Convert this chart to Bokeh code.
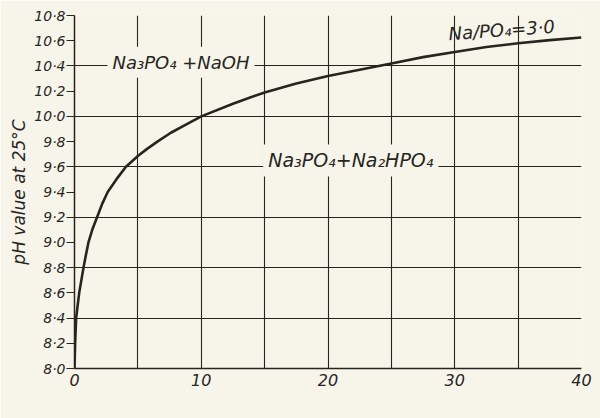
from bokeh.plotting import figure
from bokeh.models import FixedTicker, CustomJSTickFormatter, Label, Range1d
from bokeh.embed import file_html
from bokeh.resources import INLINE

# Data
po4_ppm = [0, 0.05, 0.13, 0.37, 0.71, 0.9, 1.1, 1.4, 1.78, 2.2, 2.62, 3.3, 4.06, 5, 5.7, 6.54,
           7.6, 8.9, 10, 12.5, 15, 17.5, 20, 22.5, 25, 27.5, 30, 32.5, 35, 37.5, 40]
ph_value = [8.0, 8.2, 8.4, 8.6, 8.8, 8.9, 9.0, 9.1, 9.2, 9.31, 9.4, 9.5, 9.6, 9.685, 9.74, 9.8,
            9.87, 9.94, 10.0, 10.1, 10.19, 10.26, 10.32, 10.37, 10.42, 10.47, 10.51, 10.55, 10.58, 10.605, 10.625]

x_ticks = [0, 10, 20, 30, 40]
x_grid = [0, 5, 10, 15, 20, 25, 30, 35, 40]
y_ticks = [8.0, 8.2, 8.4, 8.6, 8.8, 9.0, 9.2, 9.4, 9.6, 9.8, 10.0, 10.2, 10.4, 10.6, 10.8]
y_grid = [8.0, 8.4, 8.8, 9.2, 9.6, 10.0, 10.4, 10.8]

region_labels = ["Na\u2083PO\u2084 +NaOH", "Na\u2083PO\u2084+Na\u2082HPO\u2084", "Na/PO\u2084=3\u00b70"]

BG = "#f7f4ea"
INK = "#26261f"
FONT = "DejaVu Sans"

p = figure(width=600, height=418, output_backend="svg", toolbar_location=None,
           x_range=Range1d(0, 40), y_range=Range1d(8.0, 10.8),
           min_border_left=74, min_border_right=19, min_border_top=15, min_border_bottom=50)
p.background_fill_color = BG
p.border_fill_color = BG
p.outline_line_color = None

p.xaxis.ticker = FixedTicker(ticks=x_ticks)
p.yaxis.ticker = FixedTicker(ticks=y_ticks)
p.xgrid.ticker = FixedTicker(ticks=x_grid)
p.ygrid.ticker = FixedTicker(ticks=y_grid)
for g in (p.xgrid, p.ygrid):
    g.grid_line_color = INK
    g.grid_line_width = 1.1
    g.grid_line_alpha = 1.0

p.yaxis.formatter = CustomJSTickFormatter(code="return tick.toFixed(1).replace('.', '\u00b7');")
p.xaxis.formatter = CustomJSTickFormatter(code="return tick.toFixed(0);")

for ax in (p.xaxis, p.yaxis):
    ax.axis_line_color = INK
    ax.axis_line_width = 1.5
    ax.major_tick_line_color = INK
    ax.major_tick_line_width = 1.2
    ax.minor_tick_line_color = None
    ax.major_tick_in = 0
    ax.major_label_text_font = FONT
    ax.major_label_text_font_style = "italic"
    ax.major_label_text_color = INK
    ax.axis_label_text_font = FONT
    ax.axis_label_text_font_style = "italic"
    ax.axis_label_text_color = INK

p.xaxis.major_label_text_font_size = "16px"
p.yaxis.major_label_text_font_size = "14px"
p.xaxis.major_tick_out = 0
p.xaxis.major_label_standoff = 5
p.yaxis.major_tick_out = 8
p.yaxis.major_label_standoff = 1
p.yaxis.axis_label = "pH value at 25\u00b0C"
p.yaxis.axis_label_text_font_size = "17px"
p.yaxis.axis_label_standoff = 2

p.line(po4_ppm, ph_value, line_color=INK, line_width=2.6, line_join="round")

lab_style = dict(text_font=FONT, text_font_style="italic", text_color=INK,
                 text_align="center", text_baseline="middle")

p.add_layout(Label(x=8.4, y=10.43, text=region_labels[0], text_font_size="18px",
                   background_fill_color=BG, padding=5, **lab_style))
p.add_layout(Label(x=21.8, y=9.65, text=region_labels[1], text_font_size="19px",
                   background_fill_color=BG, padding=5, **lab_style))
p.add_layout(Label(x=33.7, y=10.685, text=region_labels[2], text_font_size="18px",
                   angle=0.07, **lab_style))

p.add_layout(Label(x=22.3, y=7.69, text="PO\u2084 concentration, p.p.m.", text_font_size="16px",
                   **lab_style))

open("out.html", "w").write(file_html(p, INLINE))
